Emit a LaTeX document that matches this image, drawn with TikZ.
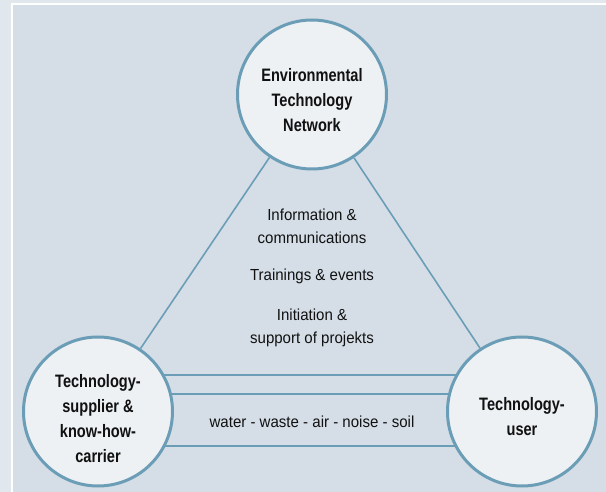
\documentclass[tikz,border=0pt]{standalone}
\usepackage{fontspec}
\usetikzlibrary{backgrounds}
\setmainfont{Liberation Sans}
\newfontfamily\rcond[FakeStretch=0.94]{Liberation Sans}
\newfontfamily\bcond[FakeStretch=0.81]{Liberation Sans Bold}
\definecolor{outerbg}{HTML}{E0E7ED}
\definecolor{panelbg}{HTML}{D5DEE7}
\definecolor{circfill}{HTML}{EDF1F4}
\definecolor{strokeblue}{HTML}{6B9EB6}
\definecolor{txt}{HTML}{111111}
\tikzset{
  circ/.style={circle, draw=strokeblue, line width=3pt, fill=circfill, minimum size=149pt, inner sep=0pt},
  btext/.style={inner sep=0pt, align=center, text=txt, font=\bcond\fontsize{18}{25}\selectfont},
  rtext/.style={inner sep=0pt, align=center, text=txt, font=\rcond\fontsize{16}{22.5}\selectfont},
  link/.style={draw=strokeblue, line width=1.6pt},
  band/.style={draw=strokeblue, line width=2pt}
}
\begin{document}
\begin{tikzpicture}[x=1pt,y=-1pt]
\useasboundingbox (0,0) rectangle (606,492);
\begin{scope}[on background layer]
\fill[outerbg] (0,0) rectangle (606,492);
\fill[white] (11,3) rectangle (606,492);
\fill[panelbg] (13,5) rectangle (606,492);
\end{scope}
\node[circ] (top) at (312,94.5) {};
\node[circ] (left) at (98,411.5) {};
\node[circ] (right) at (522,411.5) {};
\draw[link] (top) -- (left);
\draw[link] (top) -- (right);
\begin{scope}[on background layer]
\draw[band] ([yshift=36.5pt]left.center) -- ([yshift=36.5pt]right.center);
\draw[band] ([yshift=17.5pt]left.center) -- ([yshift=17.5pt]right.center);
\draw[band] ([yshift=-34.5pt]left.center) -- ([yshift=-34.5pt]right.center);
\end{scope}
\node[btext] (toptext) at (312,100.5) {Environmental\\Technology\\Network};
\node[btext] (lefttext) at (98,419) {Technology-\\supplier \&\\know-how-\\carrier};
\node[btext] (righttext) at (522,417) {Technology-\\user};
\node[rtext] (info) at (312,226.4) {Information \&\\communications};
\node[rtext] (train) at (312,276.5) {Trainings \& events};
\node[rtext] (init) at (312,327.8) {Initiation \&\\support of projekts};
\node[rtext] (media) at (312,422) {water - waste - air - noise - soil};
\end{tikzpicture}
\end{document}
